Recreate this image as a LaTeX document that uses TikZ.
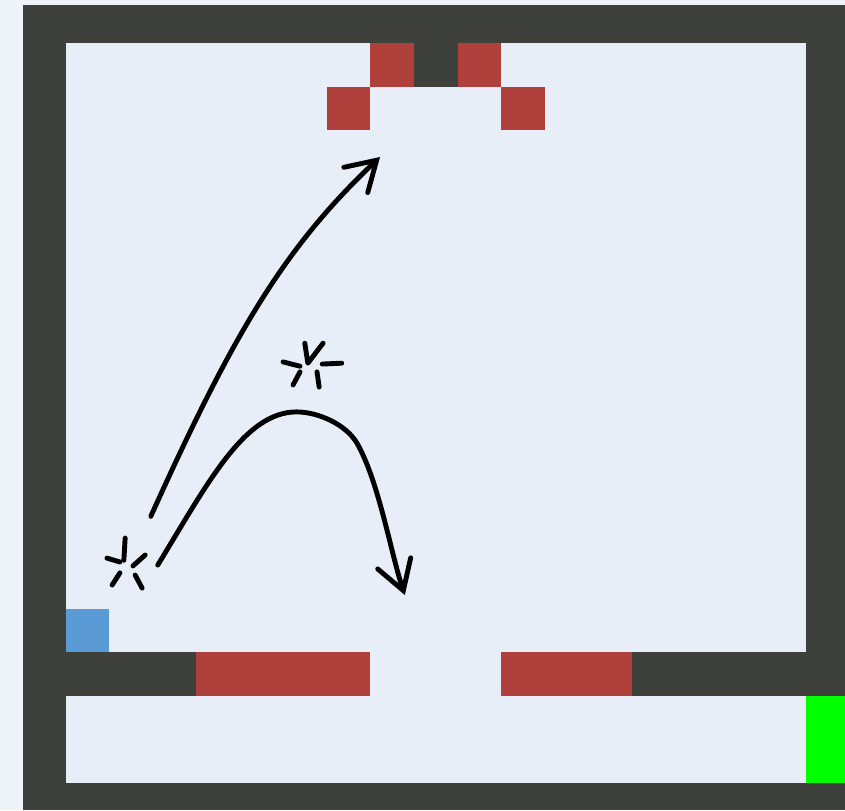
\documentclass[tikz,border=0pt]{standalone}
\usetikzlibrary{arrows.meta}

\definecolor{paper}{RGB}{239,243,250}
\definecolor{floorblue}{RGB}{231,238,248}
\definecolor{wallgray}{RGB}{62,64,60}
\definecolor{lava}{RGB}{176,64,60}
\definecolor{agentblue}{RGB}{91,155,213}
\definecolor{goalgreen}{RGB}{0,255,0}

\tikzset{
  throw/.style={line width=3.2pt,line cap=round,line join=round,
    -{Straight Barb[length=6.6mm,width=8mm,line cap=round]}},
  spark/.style={line width=3.2pt,line cap=round}
}

\begin{document}
\begin{tikzpicture}[x=1cm,y=-1cm]
  \useasboundingbox (-1.517,-0.989) rectangle (17.908,17.632);
  \fill[paper] (-1.517,-0.989) rectangle (17.908,17.632);
  \fill[wallgray] (-0.99,-0.87) rectangle (17.908,17.632);
  % room and corridor
  \fill[floorblue] (0,0) rectangle (17,14);
  \fill[floorblue] (0,15) rectangle (17,17);
  \fill[floorblue] (7,14) rectangle (10,15);
  % top opening
  \foreach \c/\r in {7/0,9/0,6/1,10/1}{
    \fill[lava] (\c,\r) rectangle ++(1,1);
  }
  \fill[wallgray] (8,0) rectangle (9,1);
  % bottom wall
  \fill[lava] (3,14) rectangle (7,15);
  \fill[lava] (10,14) rectangle (13,15);
  \fill[agentblue] (0,13) rectangle (1,14);
  \fill[goalgreen] (17,15) rectangle (17.908,17);

  % sparks
  \foreach \a/\b in {{1.36,11.38}/{1.33,11.89},{0.94,11.84}/{1.24,11.93},
      {1.54,12.02}/{1.82,11.77},{1.06,12.46}/{1.24,12.18},{1.59,12.23}/{1.75,12.53},
      {4.99,7.33}/{5.38,7.43},{5.89,7.38}/{6.34,7.36},
      {5.22,7.86}/{5.38,7.56},{5.77,7.56}/{5.82,7.91}}{
    \draw[spark] (\a) -- (\b);
  }
  \draw[spark,line join=round] (5.49,6.90) -- (5.56,7.36) -- (5.91,6.90);

  % throws
  \coordinate (longstart) at (1.95,10.88);
  \coordinate (longend) at (7.22,2.62);
  \coordinate (shortstart) at (2.11,12.0);
  \coordinate (apex) at (5.3,8.48);
  \coordinate (bend) at (6.69,9.2);
  \coordinate (shortend) at (7.79,12.69);
  \draw[throw] (longstart) .. controls (3.87,6.62) and (5.03,4.69) .. (longend);
  \draw[throw] (shortstart) .. controls (3.25,10.13) and (4.1,8.48) .. (apex)
    .. controls (5.8,8.48) and (6.44,8.77) .. (bend)
    .. controls (7.19,10.07) and (7.47,11.74) .. (shortend);
\end{tikzpicture}
\end{document}
